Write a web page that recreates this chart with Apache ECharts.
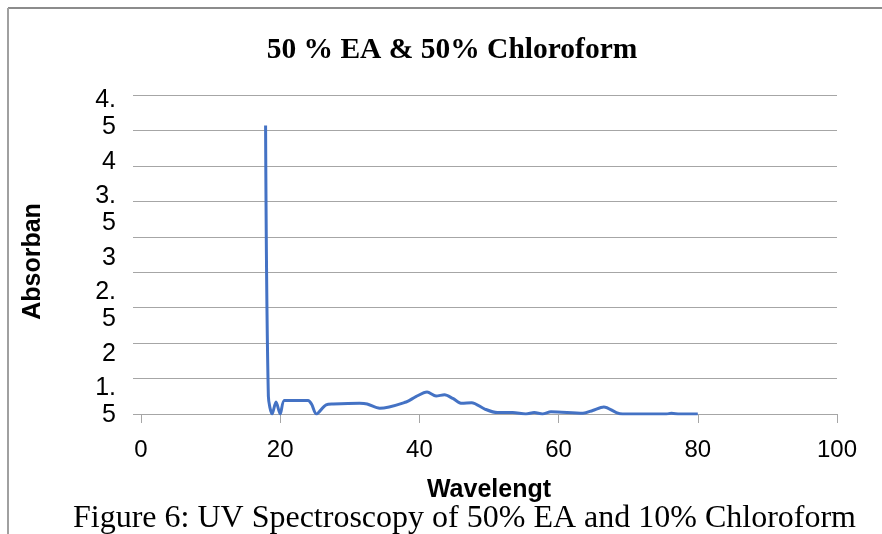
<!DOCTYPE html>
<html>
<head>
<meta charset="utf-8">
<script src="https://cdn.jsdelivr.net/npm/echarts@6/dist/echarts.min.js"></script>
<style>
  html, body { margin: 0; padding: 0; background: #fff; }
  #chart { width: 882px; height: 534px; }
</style>
</head>
<body>
<div id="chart"></div>
<script>
// UV spectrum: wavelength vs absorbance
const wavelength = [17.9, 18.3, 18.85, 19.4, 20.0, 20.6, 22.0, 24.0, 24.5, 25.2, 26.6, 27.6, 31.4, 32.5, 34.3,
  38.1, 39.5, 41.1, 42.4, 43.6, 44.8, 46.1, 47.5, 49.4, 51.2, 53.4, 55.3, 56.5, 57.7, 58.9,
  63.5, 64.9, 66.5, 68.3, 69.2, 75.5, 76.2, 77.4, 80.0];
const absorbance = [4.57, 0.75, 0.5, 0.67, 0.5, 0.69, 0.69, 0.69, 0.64, 0.5, 0.63, 0.64, 0.65, 0.64, 0.58,
  0.67, 0.745, 0.81, 0.755, 0.77, 0.72, 0.65, 0.66, 0.57, 0.52, 0.52, 0.5, 0.52, 0.5, 0.53,
  0.51, 0.55, 0.6, 0.52, 0.5, 0.5, 0.51, 0.5, 0.5];

// y tick labels as printed (wrapped into two lines where they contain a decimal point)
const yTickValues = [1.5, 2, 2.5, 3, 3.5, 4, 4.5];
const yTickText = ['1.\n5', '2', '2.\n5', '3', '3.\n5', '4', '4.\n5'];

const chartTitle = '50 % EA & 50% Chloroform';
const xTitle = 'Wavelengt';
const yTitle = 'Absorban';
const caption = 'Figure 6: UV Spectroscopy of 50% EA and 10% Chloroform';

const points = wavelength.map((w, i) => [w, absorbance[i]]);

const chart = echarts.init(document.getElementById('chart'), null, { renderer: 'canvas' });
const gray = '#a6a6a6';

chart.setOption({
  animation: false,
  backgroundColor: '#ffffff',
  title: {
    text: chartTitle,
    left: 447, top: 30, textAlign: 'center',
    textStyle: { fontFamily: 'Liberation Serif', fontWeight: 'bold', fontSize: 29.5, color: '#000' }
  },
  grid: { left: 141, right: 45, top: 95, bottom: 120 },
  xAxis: {
    type: 'value', min: 0, max: 100, interval: 20,
    name: xTitle, nameLocation: 'middle', nameGap: 64,
    nameTextStyle: { fontFamily: 'Liberation Sans', fontWeight: 'bold', fontSize: 25, color: '#000' },
    axisLine: { lineStyle: { color: gray, width: 1 } },
    axisTick: { show: true, length: 9, lineStyle: { color: gray } },
    splitLine: { show: false },
    axisLabel: { fontFamily: 'Liberation Sans', fontSize: 24, color: '#000', margin: 24 }
  },
  yAxis: [
    {
      type: 'value', min: 0.5, max: 5, interval: 0.5,
      axisLine: { show: false },
      axisTick: { show: true, length: 8, lineStyle: { color: gray } },
      splitLine: { lineStyle: { color: gray, width: 1 } },
      axisLabel: { show: false }
    },
    {
      type: 'value', min: 1.375, max: 4.695, position: 'left',
      name: yTitle, nameLocation: 'middle', nameGap: 95, nameRotate: 90,
      nameTextStyle: { fontFamily: 'Liberation Sans', fontWeight: 'bold', fontSize: 25, color: '#000', padding: [0, 14, 0, 0] },
      axisLine: { show: false },
      axisTick: { show: false },
      splitLine: { show: false },
      axisLabel: {
        customValues: yTickValues,
        fontFamily: 'Liberation Sans', fontSize: 25, lineHeight: 27, color: '#000', margin: 25,
        formatter: v => yTickText[yTickValues.indexOf(v)]
      }
    }
  ],
  series: [{
    type: 'line', data: points, yAxisIndex: 0,
    showSymbol: false, smooth: 0.3,
    lineStyle: { color: '#4472c4', width: 3 }
  }],
  graphic: [
    { type: 'line', shape: { x1: 8, y1: 8, x2: 882, y2: 8 }, style: { stroke: '#8c8c8c', lineWidth: 2 } },
    { type: 'line', shape: { x1: 8, y1: 8, x2: 8, y2: 534 }, style: { stroke: '#a0a0a0', lineWidth: 2 } },
    {
      type: 'text', left: 73, top: 503,
      style: { text: caption, font: '32px "Liberation Serif"', fill: '#000' }
    }
  ]
});
</script>
</body>
</html>
